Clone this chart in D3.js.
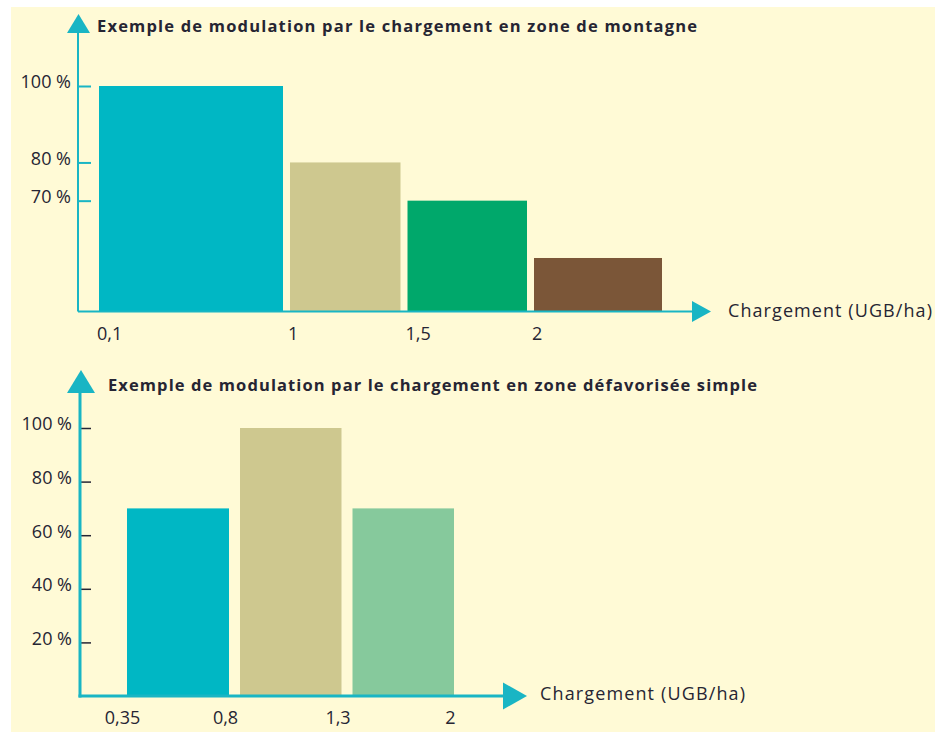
<!DOCTYPE html>
<html>
<head>
<meta charset="utf-8">
<script src="https://cdn.jsdelivr.net/npm/d3@7"></script>
<style>
  body { margin: 0; background: #fff; }
  text { font-family: "Open Sans", "Noto Sans", sans-serif; fill: #262533; }
  .title { font-weight: bold; font-size: 16.5px; }
  .tick text { font-size: 18px; }
  .lbl { font-size: 18px; }
</style>
</head>
<body>
<div id="chart-container"></div>
<script>
// two step charts, modulation of the payment by stocking rate
const svgWidth = 935;
const svgHeight = 732;

// top chart data (mountain zone)
const topTitle = "Exemple de modulation par le chargement en zone de montagne";
const topEdges = [0.1, 1, 1.5, 2, 2.5]; // last edge is just the end of the last bar
const topEdgeLabels = ["0,1", "1", "1,5", "2"];
const topValues = [100, 80, 70, 55];
const topColors = ["#00b7c4", "#cec88f", "#00a86b", "#7b5638"];
const topTicks = [70, 80, 100];

// bottom chart data (simple disadvantaged zone)
const botTitle = "Exemple de modulation par le chargement en zone défavorisée simple";
const botEdges = [0.35, 0.8, 1.3, 2];
const botEdgeLabels = ["0,35", "0,8", "1,3", "2"];
const botValues = [70, 100, 70];
const botColors = ["#00b7c4", "#cec88f", "#86c99c"];
const botTicks = [20, 40, 60, 80, 100];

const xLabel = "Chargement (UGB/ha)";
const teal = "#19b5c4";
const pct = d => d + " %";

const svg = d3.select("#chart-container")
    .append("svg")
    .attr("width", svgWidth)
    .attr("height", svgHeight);

// cream background of the page
svg.append("rect")
    .attr("x", 11)
    .attr("y", 7)
    .attr("width", svgWidth - 11)
    .attr("height", svgHeight - 7)
    .attr("fill", "#fffad6");

// ---------- top chart ----------
const topG = svg.append("g");
const topX0 = 78, topBase = 311.5;
// piecewise scale, bar widths are not proportional in the original
const xTop = d3.scaleLinear().domain(topEdges).range([95.5, 286.5, 404, 530.5, 665.5]);
// axis doesn't start at 0 in the picture
const yTop = d3.scaleLinear().domain([41, 100]).range([topBase, 86]);
const topGap = 7;

topG.selectAll("rect.bar")
    .data(topValues)
    .join("rect")
    .attr("class", "bar")
    .attr("x", (d, i) => xTop(topEdges[i]) + topGap / 2)
    .attr("width", (d, i) => xTop(topEdges[i + 1]) - xTop(topEdges[i]) - topGap)
    .attr("y", d => yTop(d))
    .attr("height", d => topBase - yTop(d))
    .attr("fill", (d, i) => topColors[i]);

// y ticks, drawn to the right of the axis line
const topAxis = topG.append("g")
    .attr("transform", `translate(${topX0},0)`)
    .call(d3.axisLeft(yTop).tickValues(topTicks).tickFormat(pct).tickSize(-13).tickPadding(7));
topAxis.select(".domain").remove();
topAxis.selectAll(".tick line").attr("stroke", teal).attr("stroke-width", 2);
topAxis.selectAll(".tick text").attr("dy", "0.1em");

// axis lines + arrow heads
topG.append("line")
    .attr("x1", topX0).attr("x2", topX0)
    .attr("y1", topBase).attr("y2", 30)
    .attr("stroke", teal).attr("stroke-width", 2);
topG.append("line")
    .attr("x1", topX0).attr("x2", 694)
    .attr("y1", topBase).attr("y2", topBase)
    .attr("stroke", teal).attr("stroke-width", 2);
topG.append("path")
    .attr("d", `M${topX0 + 0.5},14 L${topX0 + 12},33 L${topX0 - 11},33 Z`)
    .attr("fill", teal);
topG.append("path")
    .attr("d", `M711,${topBase} L692,${topBase - 10.5} L692,${topBase + 10.5} Z`)
    .attr("fill", teal);

// edge labels, left aligned on each bar
topG.selectAll("text.edge")
    .data(topEdgeLabels)
    .join("text")
    .attr("class", "lbl edge")
    .attr("x", (d, i) => xTop(topEdges[i]) + topGap / 2 - 2)
    .attr("y", 340)
    .text(d => d);

topG.append("text")
    .attr("class", "title")
    .attr("x", 97)
    .attr("y", 32)
    .attr("textLength", 600)
    .text(topTitle);

topG.append("text")
    .attr("class", "lbl")
    .attr("x", 728)
    .attr("y", 317)
    .attr("textLength", 204)
    .text(xLabel);

// ---------- bottom chart ----------
const botG = svg.append("g");
const botX0 = 80, botBase = 696;
const xBot = d3.scaleLinear().domain(botEdges).range([121.5, 234.5, 347, 459.5]);
const yBot = d3.scaleLinear().domain([0, 100]).range([botBase, 428]);
const botGap = 11;

botG.selectAll("rect.bar")
    .data(botValues)
    .join("rect")
    .attr("class", "bar")
    .attr("x", (d, i) => xBot(botEdges[i]) + botGap / 2)
    .attr("width", (d, i) => xBot(botEdges[i + 1]) - xBot(botEdges[i]) - botGap)
    .attr("y", d => yBot(d))
    .attr("height", d => botBase - yBot(d))
    .attr("fill", (d, i) => botColors[i]);

const botAxis = botG.append("g")
    .attr("transform", `translate(${botX0 + 1},0)`)
    .call(d3.axisLeft(yBot).tickValues(botTicks).tickFormat(pct).tickSize(-10).tickPadding(9));
botAxis.select(".domain").remove();
botAxis.selectAll(".tick line").attr("stroke", "#262533").attr("stroke-width", 1.5);
botAxis.selectAll(".tick text").attr("dy", "0.1em");

botG.append("line")
    .attr("x1", botX0).attr("x2", botX0)
    .attr("y1", botBase + 1.5).attr("y2", 390)
    .attr("stroke", teal).attr("stroke-width", 3);
botG.append("line")
    .attr("x1", botX0 - 1.5).attr("x2", 505)
    .attr("y1", botBase).attr("y2", botBase)
    .attr("stroke", teal).attr("stroke-width", 3);
botG.append("path")
    .attr("d", `M${botX0 + 1},370 L${botX0 + 15},393 L${botX0 - 13},393 Z`)
    .attr("fill", teal);
botG.append("path")
    .attr("d", `M527,${botBase} L503,${botBase - 13.5} L503,${botBase + 13.5} Z`)
    .attr("fill", teal);

// edge labels, roughly centred under the bar boundaries
botG.selectAll("text.edge")
    .data(botEdgeLabels)
    .join("text")
    .attr("class", "lbl edge")
    .attr("text-anchor", "middle")
    .attr("x", (d, i) => xBot(botEdges[i]) + (i ? -9 : 1))
    .attr("y", 724)
    .text(d => d);

botG.append("text")
    .attr("class", "title")
    .attr("x", 108)
    .attr("y", 391)
    .attr("textLength", 649)
    .text(botTitle);

botG.append("text")
    .attr("class", "lbl")
    .attr("x", 540)
    .attr("y", 700)
    .attr("textLength", 205)
    .text(xLabel);
</script>
</body>
</html>
